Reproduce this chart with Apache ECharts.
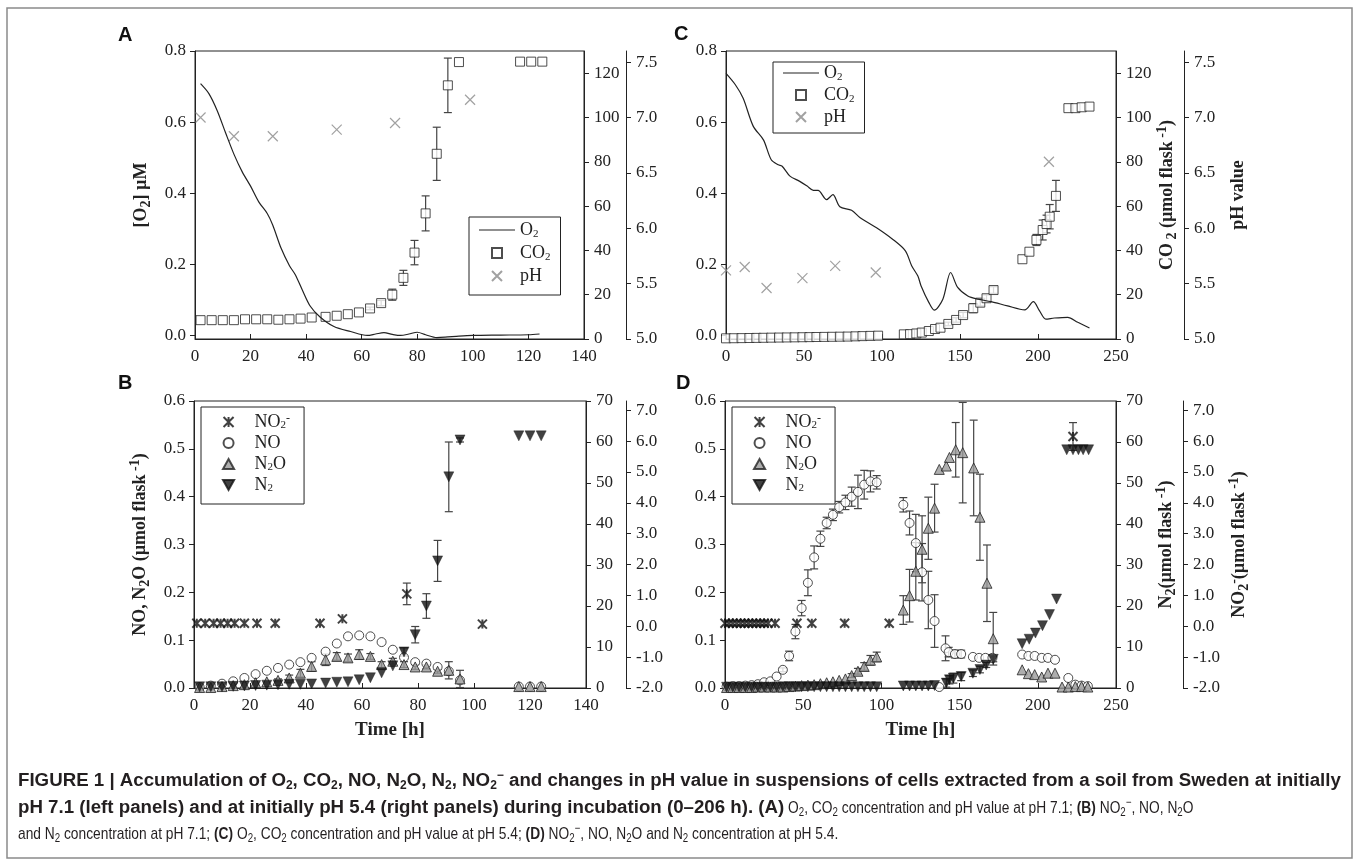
<!DOCTYPE html>
<html>
<head>
<meta charset="utf-8">
<title>Figure 1</title>
<script src="https://cdn.jsdelivr.net/npm/echarts@6/dist/echarts.min.js"></script>
<style>
html, body { height: 100%; margin: 0; padding: 0; background: #fff; }
</style>
</head>
<body>
<div id="chart-box" style="width:1358px; height:864px;"></div>
<script>
// ---------- panel A: initially pH 7.1 ----------
const aO2Time = [2,5,8,11,14,17,20,23,26,28,31,34,36,38.5,41.5,45,50,56,62,65,68,71,74,77,80,83,87,90,95,100,110,120,124];
const aO2 = [0.708,0.68,0.632,0.57,0.51,0.46,0.42,0.375,0.343,0.31,0.245,0.196,0.172,0.13,0.082,0.052,0.025,0.011,0.0,0.004,0.008,0.003,0.0,0.004,0.009,0.002,-0.006,-0.005,-0.002,0.0,0.001,0.002,0.004];
const aCO2Time = [2,6,10,14,18,22,26,30,34,38,42,47,51,55,59,63,67,71,75,79,83,87,91,95,117,121,125];
const aCO2 = [8.5,8.5,8.5,8.5,8.9,8.9,8.9,8.7,8.9,9.2,9.7,10,10.5,11.2,12,13.8,16.2,20,27.6,39,56.7,83.6,114.5,125,125.2,125.2,125.2];
const aCO2Err = [0,0,0,0,0,0,0,0,0,0,0,0,0,0,0,0.6,1.2,2.5,3.4,5.5,7.9,12,12.3,0,0,0,0];
const aPhTime = [2,14,28,51,72,99];
const aPh = [7.0,6.83,6.83,6.89,6.95,7.16];

// ---------- panel C: initially pH 5.4 ----------
const cO2Time = [0,6,11,17.5,24,29,33.5,36,41,47,52,56,59,64.5,68.5,73,80.5,86,96.5,107,115,119,123,125,130,133.5,139,144,148.5,155,161.5,170,180.5,191.5,197,201,205,210.5,219,225.5,233];
const cO2 = [0.737,0.705,0.667,0.588,0.55,0.494,0.48,0.476,0.448,0.434,0.42,0.408,0.408,0.382,0.396,0.362,0.352,0.331,0.303,0.27,0.238,0.196,0.167,0.14,0.093,0.071,0.102,0.177,0.135,0.111,0.102,0.095,0.083,0.072,0.095,0.069,0.046,0.049,0.051,0.037,0.021];
const cCO2Time = [0,5,10,15,19.5,24,29,34,39,44,49,53.5,58,63,68,73,78,83,87.5,92.5,97.5,114,118,122,125.5,130,134,137.5,142.5,147.5,152,158.5,163,167,171.5,190,194.5,199,203,205.5,207.5,211.5,219.5,224,228,233];
const cCO2 = [0.3,0.35,0.4,0.45,0.5,0.55,0.6,0.65,0.7,0.75,0.8,0.85,0.9,0.95,1.0,1.05,1.1,1.2,1.3,1.4,1.5,2.1,2.2,2.5,2.9,3.6,4.5,5.1,6.8,8.6,10.8,13.9,16.4,18.4,22.1,36,39.4,44.7,49.2,51.9,55.2,64.6,104.2,104.2,104.6,104.9];
const cCO2Err = [0,0,0,0,0,0,0,0,0,0,0,0,0,0,0,0,0,0,0,0,0,0,0,0,0,0,0,0,0.8,1,1.2,2,1.5,1.5,1.5,0,0,2.5,4.5,4,5.5,7,0,0,0,0];
const cPhTime = [0,12,26,49,70,96,207];
const cPh = [5.62,5.65,5.46,5.55,5.66,5.60,6.6];

// ---------- panel B: initially pH 7.1 ----------
const bTime = [2,6,10,14,18,22,26,30,34,38,42,47,51,55,59,63,67,71,75,79,83,87,91,95,116,120,124];
const bNO = [0.002,0.005,0.009,0.014,0.021,0.029,0.036,0.042,0.049,0.054,0.063,0.076,0.093,0.108,0.110,0.108,0.096,0.080,0.064,0.054,0.051,0.044,0.035,0.016,0.003,0.003,0.003];
const bN2O = [0.001,0.001,0.003,0.005,0.007,0.011,0.013,0.016,0.021,0.031,0.045,0.059,0.066,0.063,0.070,0.066,0.049,0.056,0.049,0.044,0.044,0.035,0.037,0.019,0.003,0.003,0.003];
const bN2OErr = [0,0,0,0,0,0,0,0.003,0.006,0.008,0.01,0.012,0.008,0.008,0.01,0.006,0.006,0.006,0.006,0.005,0.004,0.004,0.018,0.018,0,0,0];
const bN2 = [0.3,0.3,0.3,0.4,0.5,0.6,0.7,0.8,0.9,0.9,1.0,1.2,1.4,1.5,2.0,2.5,3.7,5.4,8.8,13,20,31,51.5,60.5,61.5,61.5,61.5];
const bN2Err = [0,0,0,0,0,0,0,0,0,0,0,0,0,0,0,0,0,0,1,2,3,5,8.5,0.5,0,0,0];
const bNO2Time = [1,4,7,9.5,12,14.5,18,22.5,29,45,53,76,103];
const bNO2 = [0.1,0.1,0.1,0.1,0.1,0.1,0.1,0.1,0.1,0.1,0.24,1.05,0.07];
const bNO2Err = [0,0,0,0,0,0,0,0,0,0,0,0.35,0];

// ---------- panel D: initially pH 5.4 ----------
const dNOTime = [1,5,9,13,17,21,25,29,33,37,41,45,49,53,57,61,65,69,73,77,81,85,89,93,97,114,118,122,126,130,134,137,141,143,147,151,158.5,162.5,166.5,171,190,194,198,202.5,206.5,211,219.5,224,228,232];
const dNO = [0.003,0.004,0.004,0.005,0.006,0.008,0.012,0.014,0.024,0.038,0.067,0.118,0.167,0.22,0.273,0.312,0.345,0.362,0.378,0.388,0.40,0.41,0.425,0.432,0.43,0.383,0.345,0.303,0.242,0.184,0.14,0.002,0.083,0.075,0.071,0.071,0.065,0.063,0.063,0.063,0.07,0.067,0.067,0.063,0.063,0.059,0.021,0.007,0.005,0.004];
const dNOErr = [0,0,0,0,0,0,0,0,0,0.004,0.01,0.015,0.016,0.027,0.024,0.016,0.012,0.012,0.012,0.015,0.02,0.035,0.03,0.022,0.014,0.015,0.025,0.06,0.06,0.06,0.055,0,0.026,0.01,0.008,0.008,0,0,0,0,0,0,0,0,0,0,0,0,0,0];
const dN2OTime = [1,5,9,13,17,21,25,29,33,37,41,45,49,53,57,61,65,69,73,77,81,85,89,93,97,114,118,122,126,130,134,137,141.5,143.5,147.5,152,159,163,167.5,171.5,190,194,198,202.5,206.5,211,215.5,219.5,224,228,232];
const dN2O = [0.001,0.001,0.001,0.001,0.001,0.002,0.002,0.002,0.002,0.002,0.003,0.004,0.005,0.006,0.007,0.009,0.011,0.013,0.016,0.019,0.026,0.035,0.045,0.058,0.065,0.163,0.193,0.244,0.29,0.334,0.376,0.457,0.464,0.482,0.498,0.492,0.46,0.357,0.219,0.103,0.038,0.030,0.028,0.023,0.031,0.031,0.002,0.002,0.003,0.003,0.002];
const dN2OErr = [0,0,0,0,0,0,0,0,0,0,0,0,0,0,0,0,0,0,0,0,0.004,0.006,0.008,0.01,0.01,0.03,0.055,0.06,0.07,0.065,0.05,0,0,0,0.057,0.105,0.1,0.09,0.08,0.055,0,0,0,0,0,0,0,0,0,0,0];
const dN2Time = [1,5,9,13,17,21,25,29,33,37,41,45,49,53,57,61,65,69,73,77,81,85,89,93,97,114,118,122,126,130,134,141.5,143.5,146,151,158.5,163,167,171.5,190,194.5,198.5,203,207.5,212,218.5,222.5,226,229,232.5];
const dN2 = [0.2,0.2,0.2,0.2,0.2,0.2,0.2,0.2,0.2,0.3,0.3,0.3,0.3,0.3,0.3,0.3,0.3,0.3,0.3,0.3,0.3,0.3,0.3,0.3,0.3,0.5,0.5,0.5,0.5,0.5,0.6,1.2,2.0,2.4,2.8,3.6,4.5,5.6,7.0,10.8,11.9,13.4,15.2,17.9,21.7,58.1,58.1,58.1,58.1,58.1];
const dN2Err = [0,0,0,0,0,0,0,0,0,0,0,0,0,0,0,0,0,0,0,0,0,0,0,0,0,0,0,0,0,0,0,1,1,1.2,1,0.8,0.8,0.6,0.6,0,0,0,0,0,0,0,0,0,0,0];
const dNO2Time = [0,2.5,5,7.5,10,12.5,15,17.5,20,22.5,25,27.5,32,46,55.5,76.5,105,222.5];
const dNO2 = [0.1,0.1,0.1,0.1,0.1,0.1,0.1,0.1,0.1,0.1,0.1,0.1,0.1,0.1,0.1,0.1,0.1,6.15];
const dNO2Err = [0,0,0,0,0,0,0,0,0,0,0,0,0,0,0,0,0,0.45];

// ---------- axis ticks ----------
const o2Ticks = [0,0.2,0.4,0.6,0.8];
const co2Ticks = [0,20,40,60,80,100,120];
const phTicks = [5.0,5.5,6.0,6.5,7.0,7.5];
const noTicks = [0,0.1,0.2,0.3,0.4,0.5,0.6];
const n2Ticks = [0,10,20,30,40,50,60,70];
const no2Ticks = [-2,-1,0,1,2,3,4,5,6,7];

const SERIF = "'Liberation Serif', 'DejaVu Serif', serif";
const SANS = "'Liberation Sans', Arial, sans-serif";
const INK = '#222';

const crossSym = 'path://M0,0L10,10M10,0L0,10';
const starSym = 'path://M0,0L10,10M10,0L0,10M5,0L5,10';
const downTri = 'path://M0,0L10,0L5,9Z';

const pts = (xs, ys) => xs.map((x, i) => [x, ys[i]]);
const errs = (xs, ys, es) => xs.map((x, i) => [x, ys[i] - es[i], ys[i] + es[i]]).filter((d, i) => es[i] > 0);

function errorBar(params, api) {
    const x = api.value(0);
    const hi = api.coord([x, api.value(2)]);
    const lo = api.coord([x, api.value(1)]);
    const cap = 4;
    const style = { stroke: '#444', lineWidth: 1.2 };
    return { type: 'group', children: [
        { type: 'line', shape: { x1: hi[0], y1: hi[1], x2: lo[0], y2: lo[1] }, style },
        { type: 'line', shape: { x1: hi[0] - cap, y1: hi[1], x2: hi[0] + cap, y2: hi[1] }, style },
        { type: 'line', shape: { x1: lo[0] - cap, y1: lo[1], x2: lo[0] + cap, y2: lo[1] }, style }
    ]};
}

function errSeries(name, xi, yi, data) {
    return { type: 'custom', name, xAxisIndex: xi, yAxisIndex: yi, renderItem: errorBar,
             encode: { x: 0, y: [1, 2] }, data, silent: true };
}

const lbl = { fontFamily: SERIF, fontSize: 17, color: INK };

function xAx(grid, max, interval, name) {
    return {
        type: 'value', gridIndex: grid, min: 0, max, interval,
        axisLine: { show: true, onZero: false, lineStyle: { color: INK } },
        axisTick: { show: true, inside: true, length: 5, lineStyle: { color: INK } },
        axisLabel: Object.assign({ margin: 9 }, lbl),
        splitLine: { show: false },
        name: name || '', nameLocation: 'middle', nameGap: 33,
        nameTextStyle: { fontFamily: SERIF, fontSize: 19, fontWeight: 'bold', color: INK }
    };
}

const nameRich = {
    b: { fontFamily: SERIF, fontSize: 18, fontWeight: 'bold', color: INK, lineHeight: 24 },
    bs: { fontFamily: SERIF, fontSize: 14, fontWeight: 'bold', color: INK, verticalAlign: 'bottom', lineHeight: 14 },
    bp: { fontFamily: SERIF, fontSize: 14, fontWeight: 'bold', color: INK, verticalAlign: 'top', lineHeight: 14 }
};

function yAx(grid, position, min, max, ticks, digits, offset, name, nameGap) {
    return {
        type: 'value', gridIndex: grid, position, min, max, offset,
        axisLine: { show: true, onZero: false, lineStyle: { color: INK } },
        axisTick: { show: true, inside: false, length: 5, customValues: ticks, lineStyle: { color: INK } },
        axisLabel: Object.assign({ customValues: ticks, margin: position === 'left' ? 9 : 10,
                                   formatter: v => v.toFixed(digits) }, lbl),
        splitLine: { show: false },
        name: name || '', nameLocation: 'middle', nameRotate: 90, nameGap: nameGap || 0,
        nameTextStyle: { color: INK, rich: nameRich }
    };
}

const legendNames = {
    'O2': '{t|O}{s|2}', 'CO2': '{t|CO}{s|2}', 'pH': '{t|pH}',
    'NO2-': '{t|NO}{s|2}{p|-}', 'NO': '{t|NO}', 'N2O': '{t|N}{s|2}{t|O}', 'N2': '{t|N}{s|2}'
};
const lineIcon = 'path://M0,0H36V1.2H0Z';
const squareIcon = 'path://M0,0H10V10H0Z';
const upTriIcon = 'path://M5,0L10,9H0Z';

function legendBox(left, top, names, itemWidth, padding, lineH, gap) {
    return {
        orient: 'vertical', left, top, data: names, itemWidth, itemHeight: 10, itemGap: gap,
        padding, borderColor: INK, borderWidth: 1, selectedMode: false,
        formatter: n => legendNames[n],
        textStyle: { rich: {
            t: { fontFamily: SERIF, fontSize: 18, color: INK, lineHeight: lineH },
            s: { fontFamily: SERIF, fontSize: 11, color: INK, verticalAlign: 'bottom', lineHeight: 11 },
            p: { fontFamily: SERIF, fontSize: 12, color: INK, verticalAlign: 'top', lineHeight: 11 }
        }}
    };
}
const gasLegend = [
    { name: 'O2', icon: lineIcon, itemStyle: { color: INK, borderWidth: 0 } },
    { name: 'CO2', icon: squareIcon },
    { name: 'pH' }
];
const nLegend = [
    { name: 'NO2-' }, { name: 'NO' }, { name: 'N2O', icon: upTriIcon }, { name: 'N2' }
];

const squareStyle = { color: '#fff', borderColor: INK, borderWidth: 1 };
const crossStyle = { color: 'rgba(0,0,0,0)', borderColor: '#8a8a8a', borderWidth: 1.2 };
const starStyle = { color: 'rgba(0,0,0,0)', borderColor: '#111', borderWidth: 2 };
const circleStyle = { color: '#fff', borderColor: INK, borderWidth: 1 };
const triStyle = { color: '#9a9a9a', borderColor: INK, borderWidth: 1 };
const n2Style = { color: '#111', borderColor: '#111', borderWidth: 0.5 };

// caption: bold runs are set wide, plain runs are condensed
const CAP_INK = '#231f20';
const BOLD_FONT = 'bold 18.7px ' + SANS;
const NARROW_SCALE = 0.81;
const capB = { fontFamily: SANS, fontSize: 18.7, fontWeight: 'bold', fill: CAP_INK };
const capN = { fontFamily: SANS, fontSize: 17, fill: CAP_INK };
const capRich = {
    B: Object.assign({ lineHeight: 22 }, capB),
    BS: Object.assign({}, capB, { fontSize: 12, verticalAlign: 'bottom', lineHeight: 12 }),
    BP: Object.assign({}, capB, { fontSize: 12, verticalAlign: 'top', lineHeight: 12 }),
    N: Object.assign({ lineHeight: 22 }, capN),
    NS: Object.assign({}, capN, { fontSize: 12, verticalAlign: 'bottom', lineHeight: 12 }),
    NP: Object.assign({}, capN, { fontSize: 12, verticalAlign: 'top', lineHeight: 12 }),
    NB: Object.assign({}, capN, { fontWeight: 'bold', lineHeight: 22 })
};
const cap1 = '{B|FIGURE 1 | Accumulation of O}{BS|2}{B|, CO}{BS|2}{B|, NO, N}{BS|2}{B|O, N}{BS|2}{B|, NO}{BS|2}{BP|−}{B| and changes in pH value in suspensions of cells extracted from a soil from Sweden at initially}';
const cap2Bold = 'pH 7.1 (left panels) and at initially pH 5.4 (right panels) during incubation (0–206 h). (A)';
const cap2Rest = '{N| O}{NS|2}{N|, CO}{NS|2}{N| concentration and pH value at pH 7.1; }{NB|(B)}{N| NO}{NS|2}{NP|−}{N|, NO, N}{NS|2}{N|O}';
const cap3 = '{N|and N}{NS|2}{N| concentration at pH 7.1; }{NB|(C)}{N| O}{NS|2}{N|, CO}{NS|2}{N| concentration and pH value at pH 5.4; }{NB|(D)}{N| NO}{NS|2}{NP|−}{N|, NO, N}{NS|2}{N|O and N}{NS|2}{N| concentration at pH 5.4.}';

const measure = document.createElement('canvas').getContext('2d');
measure.font = BOLD_FONT;
const cap2BoldWidth = measure.measureText(cap2Bold).width;

const letter = (text, x, y) => ({ type: 'text', style: { text, x, y, fill: '#111',
    font: 'bold 20px ' + SANS, verticalAlign: 'middle' } });
const capText = (text, x, y, scaleX) => ({ type: 'text', x, y, scaleX: scaleX || 1,
    style: { text, x: 0, y: 0, rich: capRich, verticalAlign: 'middle' } });

const chart = echarts.init(document.getElementById('chart-box'));

const option = {
    animation: false,
    backgroundColor: '#fff',
    grid: [
        { left: 195, top: 51, width: 389, height: 288, show: true, borderColor: INK, borderWidth: 1 },
        { left: 194, top: 401, width: 392, height: 287, show: true, borderColor: INK, borderWidth: 1 },
        { left: 726, top: 51, width: 390, height: 288, show: true, borderColor: INK, borderWidth: 1 },
        { left: 725, top: 401, width: 391, height: 287, show: true, borderColor: INK, borderWidth: 1 }
    ],
    xAxis: [
        xAx(0, 140, 20),
        xAx(1, 140, 20, 'Time [h]'),
        xAx(2, 250, 50),
        xAx(3, 250, 50, 'Time [h]')
    ],
    yAxis: [
        yAx(0, 'left', -0.01, 0.8, o2Ticks, 1, 0, '{b|[O}{bs|2}{b|] µM}', 42),
        yAx(0, 'right', 0, 130, co2Ticks, 0, 0),
        yAx(0, 'right', 5.0, 7.6, phTicks, 1, 42),
        yAx(1, 'left', 0, 0.6, noTicks, 1, 0, '{b|NO, N}{bs|2}{b|O (µmol flask}{bp| -1}{b|)}', 42),
        yAx(1, 'right', 0, 70, n2Ticks, 0, 0),
        yAx(1, 'right', -2, 7.3, no2Ticks, 1, 40),
        yAx(2, 'left', -0.01, 0.8, o2Ticks, 1, 0),
        yAx(2, 'right', 0, 130, co2Ticks, 0, 0, '{b|CO}{bs| 2}{b| (µmol flask}{bp| -1}{b|)}', 37),
        yAx(2, 'right', 5.0, 7.6, phTicks, 1, 68, '{b|pH value}', 42),
        yAx(3, 'left', 0, 0.6, noTicks, 1, 0),
        yAx(3, 'right', 0, 70, n2Ticks, 0, 0, '{b|N}{bs|2}{b|(µmol flask}{bp| -1}{b|)}', 38),
        yAx(3, 'right', -2, 7.3, no2Ticks, 1, 67, '{b|NO}{bs|2}{bp|-}{b|(µmol flask}{bp| -1}{b|)}', 44)
    ],
    legend: [
        legendBox(469, 217, gasLegend, 36, [4, 10, 10, 10], 20, 4),
        legendBox(773, 62, gasLegend, 36, [2, 10, 7, 10], 20, 3),
        legendBox(201, 407, nLegend, 42, [6, 14, 10, 21], 18, 3),
        legendBox(732, 407, nLegend, 42, [6, 14, 10, 21], 18, 3)
    ],
    series: [
        // A
        { type: 'line', name: 'O2', xAxisIndex: 0, yAxisIndex: 0, data: pts(aO2Time, aO2),
          symbol: 'none', smooth: 0.3, lineStyle: { color: INK, width: 1.2 }, itemStyle: { color: INK } },
        errSeries('errA-CO2', 0, 1, errs(aCO2Time, aCO2, aCO2Err)),
        { type: 'scatter', name: 'CO2', xAxisIndex: 0, yAxisIndex: 1, data: pts(aCO2Time, aCO2),
          symbol: 'rect', symbolSize: 9, itemStyle: squareStyle },
        { type: 'scatter', name: 'pH', xAxisIndex: 0, yAxisIndex: 2, data: pts(aPhTime, aPh),
          symbol: crossSym, symbolSize: 10, itemStyle: crossStyle },
        // C
        { type: 'line', name: 'O2', xAxisIndex: 2, yAxisIndex: 6, data: pts(cO2Time, cO2),
          symbol: 'none', smooth: 0.3, lineStyle: { color: INK, width: 1.2 }, itemStyle: { color: INK } },
        errSeries('errC-CO2', 2, 7, errs(cCO2Time, cCO2, cCO2Err)),
        { type: 'scatter', name: 'CO2', xAxisIndex: 2, yAxisIndex: 7, data: pts(cCO2Time, cCO2),
          symbol: 'rect', symbolSize: 9, itemStyle: squareStyle },
        { type: 'scatter', name: 'pH', xAxisIndex: 2, yAxisIndex: 8, data: pts(cPhTime, cPh),
          symbol: crossSym, symbolSize: 10, itemStyle: crossStyle },
        // B
        errSeries('errB-NO2', 1, 5, errs(bNO2Time, bNO2, bNO2Err)),
        { type: 'scatter', name: 'NO2-', xAxisIndex: 1, yAxisIndex: 5, data: pts(bNO2Time, bNO2),
          symbol: starSym, symbolSize: 9, itemStyle: starStyle },
        { type: 'scatter', name: 'NO', xAxisIndex: 1, yAxisIndex: 3, data: pts(bTime, bNO),
          symbol: 'circle', symbolSize: 9, itemStyle: circleStyle },
        errSeries('errB-N2O', 1, 3, errs(bTime, bN2O, bN2OErr)),
        { type: 'scatter', name: 'N2O', xAxisIndex: 1, yAxisIndex: 3, data: pts(bTime, bN2O),
          symbol: 'triangle', symbolSize: 10, itemStyle: triStyle },
        errSeries('errB-N2', 1, 4, errs(bTime, bN2, bN2Err)),
        { type: 'scatter', name: 'N2', xAxisIndex: 1, yAxisIndex: 4, data: pts(bTime, bN2),
          symbol: downTri, symbolSize: 10, itemStyle: n2Style },
        // D
        errSeries('errD-NO2', 3, 11, errs(dNO2Time, dNO2, dNO2Err)),
        { type: 'scatter', name: 'NO2-', xAxisIndex: 3, yAxisIndex: 11, data: pts(dNO2Time, dNO2),
          symbol: starSym, symbolSize: 9, itemStyle: starStyle },
        errSeries('errD-NO', 3, 9, errs(dNOTime, dNO, dNOErr)),
        { type: 'scatter', name: 'NO', xAxisIndex: 3, yAxisIndex: 9, data: pts(dNOTime, dNO),
          symbol: 'circle', symbolSize: 9, itemStyle: circleStyle },
        errSeries('errD-N2O', 3, 9, errs(dN2OTime, dN2O, dN2OErr)),
        { type: 'scatter', name: 'N2O', xAxisIndex: 3, yAxisIndex: 9, data: pts(dN2OTime, dN2O),
          symbol: 'triangle', symbolSize: 10, itemStyle: triStyle },
        errSeries('errD-N2', 3, 10, errs(dN2Time, dN2, dN2Err)),
        { type: 'scatter', name: 'N2', xAxisIndex: 3, yAxisIndex: 10, data: pts(dN2Time, dN2),
          symbol: downTri, symbolSize: 10, itemStyle: n2Style }
    ],
    graphic: [
        { type: 'rect', shape: { x: 7, y: 8, width: 1345, height: 850 },
          style: { fill: 'none', stroke: '#8a8a8a', lineWidth: 1.5 }, silent: true },
        letter('A', 118, 35),
        letter('B', 118, 383),
        letter('C', 674, 34),
        letter('D', 676, 383),
        capText(cap1, 18, 781),
        capText('{B|' + cap2Bold + '}', 18, 808),
        capText(cap2Rest, 18 + cap2BoldWidth, 808, NARROW_SCALE),
        capText(cap3, 18, 834, NARROW_SCALE)
    ]
};

chart.setOption(option);
</script>
</body>
</html>
